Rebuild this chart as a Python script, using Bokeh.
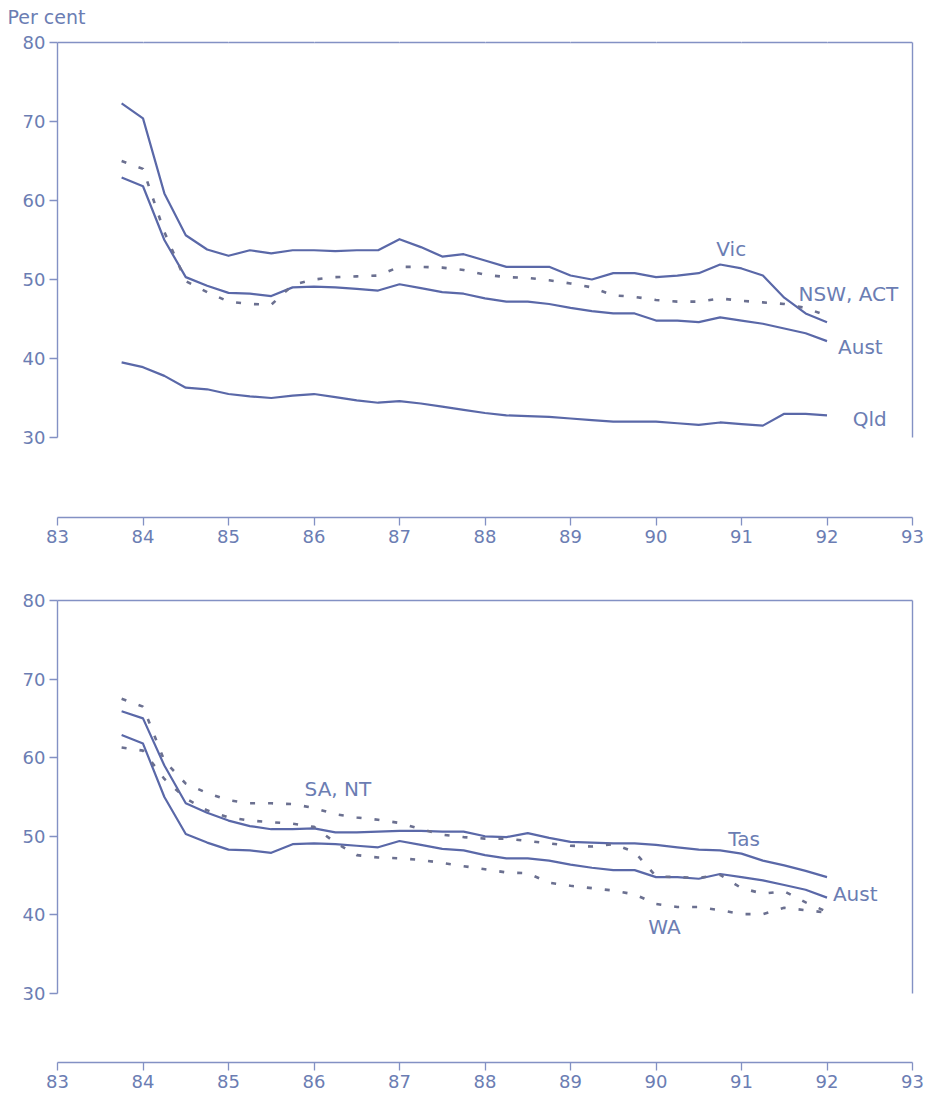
from bokeh.plotting import figure
from bokeh.layouts import column
from bokeh.models import Range1d, LinearAxis, FixedTicker, Label, Title
from bokeh.embed import file_html
from bokeh.resources import INLINE

# ---------------- data (quarterly, per cent) ----------------
quarters = [83.75, 84.0, 84.25, 84.5, 84.75, 85.0, 85.25, 85.5, 85.75,
            86.0, 86.25, 86.5, 86.75, 87.0, 87.25, 87.5, 87.75,
            88.0, 88.25, 88.5, 88.75, 89.0, 89.25, 89.5, 89.75,
            90.0, 90.25, 90.5, 90.75, 91.0, 91.25, 91.5, 91.75, 92.0]

vic = [72.3, 70.4, 60.9, 55.6, 53.8, 53.0, 53.7, 53.3, 53.7,
       53.7, 53.6, 53.7, 53.7, 55.1, 54.1, 52.9, 53.2,
       52.4, 51.6, 51.6, 51.6, 50.5, 50.0, 50.8, 50.8,
       50.3, 50.5, 50.8, 51.9, 51.4, 50.5, 47.7, 45.7, 44.6]

nsw_act = [65.0, 64.0, 56.0, 49.8, 48.4, 47.2, 46.9, 46.8, 49.3,
           50.0, 50.3, 50.4, 50.5, 51.6, 51.6, 51.5, 51.2,
           50.6, 50.3, 50.2, 49.9, 49.5, 49.0, 48.0, 47.8,
           47.4, 47.2, 47.2, 47.6, 47.3, 47.1, 46.9, 46.4, 45.4]

aust = [62.9, 61.8, 55.0, 50.3, 49.2, 48.3, 48.2, 47.9, 49.0,
        49.1, 49.0, 48.8, 48.6, 49.4, 48.9, 48.4, 48.2,
        47.6, 47.2, 47.2, 46.9, 46.4, 46.0, 45.7, 45.7,
        44.8, 44.8, 44.6, 45.2, 44.8, 44.4, 43.8, 43.2, 42.2]

qld = [39.5, 38.9, 37.8, 36.3, 36.1, 35.5, 35.2, 35.0, 35.3,
       35.5, 35.1, 34.7, 34.4, 34.6, 34.3, 33.9, 33.5,
       33.1, 32.8, 32.7, 32.6, 32.4, 32.2, 32.0, 32.0,
       32.0, 31.8, 31.6, 31.9, 31.7, 31.5, 33.0, 33.0, 32.8]

tas = [65.9, 65.0, 59.0, 54.2, 53.0, 52.0, 51.3, 50.9, 50.9,
       51.0, 50.5, 50.5, 50.6, 50.7, 50.7, 50.6, 50.6,
       50.0, 49.9, 50.4, 49.8, 49.3, 49.2, 49.1, 49.1,
       48.9, 48.6, 48.3, 48.2, 47.8, 46.9, 46.3, 45.6, 44.8]

sa_nt = [67.5, 66.5, 59.6, 56.7, 55.5, 54.6, 54.2, 54.2, 54.1,
         53.6, 52.8, 52.4, 52.1, 51.7, 50.9, 50.2, 49.9,
         49.7, 49.7, 49.4, 49.1, 48.8, 48.7, 49.0, 48.0,
         44.9, 44.8, 44.7, 45.1, 43.4, 42.7, 43.0, 41.6, 40.4]

wa = [61.3, 60.9, 57.3, 54.8, 53.3, 52.4, 52.0, 51.8, 51.6,
      51.2, 49.2, 47.6, 47.3, 47.2, 47.0, 46.6, 46.2,
      45.8, 45.4, 45.3, 44.1, 43.7, 43.4, 43.1, 42.6,
      41.4, 41.0, 41.0, 40.6, 40.1, 40.1, 40.9, 40.6, 40.3]

x_ticks = [83, 84, 85, 86, 87, 88, 89, 90, 91, 92, 93]
y_ticks = [30, 40, 50, 60, 70, 80]

# ---------------- style ----------------
FONT = "DejaVu Sans"
LINE = "#5a68a8"
DASH = "#6b7090"
AXIS = "#8391c4"
TXT = "#6b7db3"


def style_axis(ax, labels=True, ticks=True):
    ax.axis_line_color = AXIS
    ax.axis_line_width = 1.4
    ax.minor_tick_line_color = None
    if ticks:
        ax.major_tick_line_color = AXIS
        ax.major_tick_line_width = 1.3
        ax.major_tick_out = 8
        ax.major_tick_in = 0
    else:
        ax.major_tick_line_color = None
    if labels:
        ax.major_label_text_font = FONT
        ax.major_label_text_font_size = "18px"
        ax.major_label_text_color = TXT
        ax.major_label_standoff = 4
    else:
        ax.major_label_text_font_size = "0px"
        ax.major_label_text_color = None
        ax.major_label_standoff = 0


def panel(ymin, frame_h, b_top, b_bottom, solid, dashed, labels, per_cent=False):
    p = figure(frame_width=855, frame_height=frame_h,
               x_range=Range1d(83, 93), y_range=Range1d(ymin, 80),
               output_backend="svg", toolbar_location=None,
               min_border_left=57, min_border_right=14,
               min_border_top=b_top, min_border_bottom=b_bottom,
               x_axis_location="below", y_axis_location="left")
    p.outline_line_color = None
    p.xgrid.grid_line_color = None
    p.ygrid.grid_line_color = None
    p.background_fill_color = "white"
    p.border_fill_color = "white"

    if per_cent:
        p.title = Title(text="Per cent", align="left", offset=-50,
                        text_font=FONT, text_font_size="19px",
                        text_font_style="normal", text_color=TXT,
                        standoff=2)

    p.xaxis.ticker = FixedTicker(ticks=x_ticks)
    p.yaxis.ticker = FixedTicker(ticks=y_ticks)
    p.yaxis.bounds = (30, 80)
    style_axis(p.xaxis[0])
    style_axis(p.yaxis[0])

    if per_cent:
        # white spacer ticks lift the "Per cent" title clear of the frame
        top = LinearAxis(ticker=FixedTicker(ticks=x_ticks))
        style_axis(top, labels=False, ticks=False)
        top.major_tick_line_color = "white"
        top.major_tick_line_width = 0.5
        top.major_tick_out = 14
        top.major_tick_in = 0
    else:
        top = LinearAxis(ticker=FixedTicker(ticks=[]))
        style_axis(top, labels=False, ticks=False)
    p.add_layout(top, "above")
    right = LinearAxis(ticker=FixedTicker(ticks=[]), bounds=(30, 80))
    style_axis(right, labels=False, ticks=False)
    p.add_layout(right, "right")

    for ys in solid:
        p.line(quarters, ys, line_color=LINE, line_width=2.2, line_join="round")
    for ys in dashed:
        p.line(quarters, ys, line_color=DASH, line_width=2.6, line_dash="5 13")

    for txt, x, y in labels:
        p.add_layout(Label(x=x, y=y, text=txt, text_font=FONT, text_font_size="20px",
                           text_color=TXT, text_align="center", text_baseline="middle"))
    return p


p1 = panel(19.87, 475, 42, 43, [vic, aust, qld], [nsw_act],
           [("Vic", 90.88, 53.9), ("NSW, ACT", 92.25, 48.1),
            ("Aust", 92.39, 41.5), ("Qld", 92.5, 32.3)], per_cent=True)
p2 = panel(21.22, 462, 40, 36, [tas, aust], [sa_nt, wa],
           [("SA, NT", 86.28, 56.0), ("Tas", 91.03, 49.7),
            ("Aust", 92.33, 42.7), ("WA", 90.1, 38.5)])

page = column(p1, p2, spacing=0)
open("out.html", "w").write(file_html(page, INLINE))
